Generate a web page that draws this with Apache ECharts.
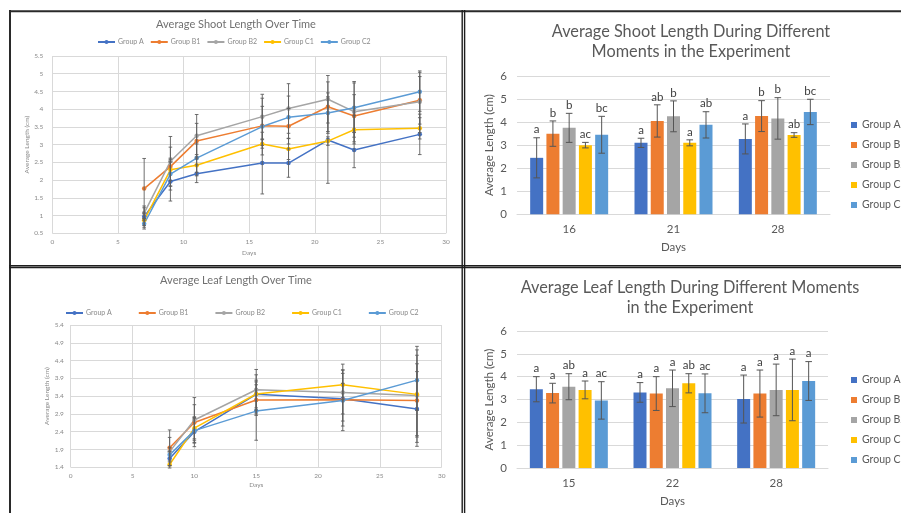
<!DOCTYPE html>
<html><head><meta charset="utf-8">
<script src="https://cdn.jsdelivr.net/npm/echarts@6/dist/echarts.min.js"></script>
<style>html,body{margin:0;padding:0;background:#fff}#c{width:901px;height:513px}</style>
</head><body><div id="c"></div>
<script>
// ---------- data ----------
const groups = ['Group A', 'Group B1', 'Group B2', 'Group C1', 'Group C2'];
const colors = ['#4472C4', '#ED7D31', '#A5A5A5', '#FFC000', '#5B9BD5'];

// Average shoot length over time (line chart)
const shootDays = [7, 9, 11, 16, 18, 21, 23, 28];
const shootA  = [0.97, 1.96, 2.18, 2.48, 2.48, 3.13, 2.85, 3.29];
const shootB1 = [1.76, 2.38, 3.10, 3.53, 3.52, 4.07, 3.81, 4.25];
const shootB2 = [1.07, 2.53, 3.25, 3.79, 4.02, 4.28, 3.93, 4.21];
const shootC1 = [0.87, 2.29, 2.42, 3.02, 2.88, 3.10, 3.42, 3.46];
const shootC2 = [0.77, 2.17, 2.62, 3.51, 3.77, 3.89, 4.04, 4.49];
const shootErrA  = [0.25, 0.55, 0.25, 0.87, 0.40, 1.22, 0.50, 0.57];
const shootErrB1 = [0.85, 0.55, 0.50, 0.55, 0.50, 0.70, 0.60, 0.67];
const shootErrB2 = [0.20, 0.70, 0.60, 0.63, 0.70, 0.67, 0.85, 0.87];
const shootErrC1 = [0.20, 0.30, 0.30, 0.12, 0.30, 0.12, 0.40, 0.30];
const shootErrC2 = [0.15, 0.45, 0.40, 0.80, 0.60, 0.57, 0.70, 0.55];

// Average leaf length over time (line chart)
const leafDays = [8, 10, 15, 22, 28];
const leafA  = [1.65, 2.40, 3.45, 3.33, 3.04];
const leafB1 = [1.95, 2.66, 3.29, 3.30, 3.28];
const leafB2 = [1.84, 2.73, 3.58, 3.50, 3.42];
const leafC1 = [1.48, 2.50, 3.46, 3.72, 3.45];
const leafC2 = [1.75, 2.43, 2.98, 3.28, 3.85];
const leafErrA  = [0.20, 0.42, 0.55, 0.43, 1.05];
const leafErrB1 = [0.50, 0.50, 0.43, 0.74, 1.03];
const leafErrB2 = [0.40, 0.63, 0.57, 0.80, 1.13];
const leafErrC1 = [0.10, 0.30, 0.39, 0.42, 1.35];
const leafErrC2 = [0.20, 0.35, 0.82, 0.85, 0.85];

// Shoot length bar chart
const shootBarDays = ['16', '21', '28'];
const shootBarA  = [2.45, 3.10, 3.27];
const shootBarB1 = [3.50, 4.05, 4.26];
const shootBarB2 = [3.75, 4.25, 4.16];
const shootBarC1 = [3.00, 3.10, 3.44];
const shootBarC2 = [3.45, 3.88, 4.44];
const shootBarErrA  = [0.87, 0.20, 0.65];
const shootBarErrB1 = [0.55, 0.70, 0.67];
const shootBarErrB2 = [0.63, 0.67, 0.90];
const shootBarErrC1 = [0.12, 0.13, 0.10];
const shootBarErrC2 = [0.80, 0.57, 0.55];
const shootLetA  = ['a', 'a', 'a'];
const shootLetB1 = ['b', 'ab', 'b'];
const shootLetB2 = ['b', 'b', 'b'];
const shootLetC1 = ['ac', 'a', 'ab'];
const shootLetC2 = ['bc', 'ab', 'bc'];

// Leaf length bar chart
const leafBarDays = ['15', '22', '28'];
const leafBarA  = [3.45, 3.31, 3.02];
const leafBarB1 = [3.28, 3.26, 3.26];
const leafBarB2 = [3.56, 3.49, 3.42];
const leafBarC1 = [3.42, 3.71, 3.42];
const leafBarC2 = [2.96, 3.27, 3.81];
const leafBarErrA  = [0.55, 0.43, 1.05];
const leafBarErrB1 = [0.43, 0.74, 1.03];
const leafBarErrB2 = [0.57, 0.80, 1.13];
const leafBarErrC1 = [0.39, 0.42, 1.35];
const leafBarErrC2 = [0.82, 0.85, 0.85];
const leafLetA  = ['a', 'a', 'a'];
const leafLetB1 = ['a', 'a', 'a'];
const leafLetB2 = ['ab', 'a', 'a'];
const leafLetC1 = ['a', 'ab', 'a'];
const leafLetC2 = ['ac', 'ac', 'a'];

const shootTicksY = [0.5, 5.5, 0.5]; // min, max, interval
const leafTicksY = [1.4, 5.4, 0.5];
const barTicksY = [0, 6, 1];
const dayTicksX = [0, 30, 5];

// ---------- build ----------
const FONT = 'Lato';
const BW = 13, BGAP = 0.25;
const shootLine = [shootA, shootB1, shootB2, shootC1, shootC2];
const shootLineErr = [shootErrA, shootErrB1, shootErrB2, shootErrC1, shootErrC2];
const leafLine = [leafA, leafB1, leafB2, leafC1, leafC2];
const leafLineErr = [leafErrA, leafErrB1, leafErrB2, leafErrC1, leafErrC2];
const shootBar = [shootBarA, shootBarB1, shootBarB2, shootBarC1, shootBarC2];
const shootBarErr = [shootBarErrA, shootBarErrB1, shootBarErrB2, shootBarErrC1, shootBarErrC2];
const shootLet = [shootLetA, shootLetB1, shootLetB2, shootLetC1, shootLetC2];
const leafBar = [leafBarA, leafBarB1, leafBarB2, leafBarC1, leafBarC2];
const leafBarErr = [leafBarErrA, leafBarErrB1, leafBarErrB2, leafBarErrC1, leafBarErrC2];
const leafLet = [leafLetA, leafLetB1, leafLetB2, leafLetC1, leafLetC2];

function lineErr(params, api) {
  const x = api.value(0), lo = api.value(1), hi = api.value(2);
  const p1 = api.coord([x, lo]), p2 = api.coord([x, hi]);
  const c = 1.8, st = {stroke: '#5f5f5f', lineWidth: 0.9};
  return {type: 'group', children: [
    {type: 'line', shape: {x1: p1[0], y1: p1[1], x2: p2[0], y2: p2[1]}, style: st},
    {type: 'line', shape: {x1: p1[0] - c, y1: p1[1], x2: p1[0] + c, y2: p1[1]}, style: st},
    {type: 'line', shape: {x1: p2[0] - c, y1: p2[1], x2: p2[0] + c, y2: p2[1]}, style: st}
  ]};
}
function makeBarErr(gi, letters) {
  return function (params, api) {
    const ci = api.value(0), v = api.value(1), e = api.value(2);
    const off = (gi - 2) * BW * (1 + BGAP);
    const p1 = api.coord([ci, v - e]), p2 = api.coord([ci, v + e]);
    const x = p1[0] + off, c = 3.3, st = {stroke: '#555', lineWidth: 1};
    return {type: 'group', children: [
      {type: 'line', shape: {x1: x, y1: p1[1], x2: x, y2: p2[1]}, style: st},
      {type: 'line', shape: {x1: x - c, y1: p1[1], x2: x + c, y2: p1[1]}, style: st},
      {type: 'line', shape: {x1: x - c, y1: p2[1], x2: x + c, y2: p2[1]}, style: st},
      {type: 'text', style: {text: letters[params.dataIndex], x: x, y: p2[1] - 2, align: 'center', verticalAlign: 'bottom', fill: '#404040', font: '11.5px ' + FONT}}
    ]};
  };
}

const series = [];
groups.forEach((g, i) => {
  series.push({type: 'line', name: g, xAxisIndex: 0, yAxisIndex: 0, color: colors[i],
    data: shootDays.map((d, k) => [d, shootLine[i][k]]), symbol: 'circle', symbolSize: 4.5,
    lineStyle: {width: 1.5}, z: 2});
});
groups.forEach((g, i) => {
  series.push({type: 'line', name: g, xAxisIndex: 2, yAxisIndex: 2, color: colors[i],
    data: leafDays.map((d, k) => [d, leafLine[i][k]]), symbol: 'circle', symbolSize: 4.5,
    lineStyle: {width: 1.5}, z: 2});
});
groups.forEach((g, i) => {
  series.push({type: 'custom', name: 'errS' + i, xAxisIndex: 0, yAxisIndex: 0, silent: true, z: 5,
    data: shootDays.map((d, k) => [d, shootLine[i][k] - shootLineErr[i][k], shootLine[i][k] + shootLineErr[i][k]]),
    encode: {x: 0, y: [1, 2]}, renderItem: lineErr});
  series.push({type: 'custom', name: 'errL' + i, xAxisIndex: 2, yAxisIndex: 2, silent: true, z: 5,
    data: leafDays.map((d, k) => [d, leafLine[i][k] - leafLineErr[i][k], leafLine[i][k] + leafLineErr[i][k]]),
    encode: {x: 0, y: [1, 2]}, renderItem: lineErr});
});
groups.forEach((g, i) => {
  series.push({type: 'bar', name: g, xAxisIndex: 1, yAxisIndex: 1, color: colors[i],
    data: shootBar[i], barWidth: BW, barGap: (BGAP * 100) + '%'});
  series.push({type: 'bar', name: g, xAxisIndex: 3, yAxisIndex: 3, color: colors[i],
    data: leafBar[i], barWidth: BW, barGap: (BGAP * 100) + '%'});
});
groups.forEach((g, i) => {
  series.push({type: 'custom', name: 'errBS' + i, xAxisIndex: 1, yAxisIndex: 1, silent: true, z: 5,
    data: shootBarDays.map((d, k) => [k, shootBar[i][k], shootBarErr[i][k]]),
    encode: {x: 0, y: 1}, renderItem: makeBarErr(i, shootLet[i])});
  series.push({type: 'custom', name: 'errBL' + i, xAxisIndex: 3, yAxisIndex: 3, silent: true, z: 5,
    data: leafBarDays.map((d, k) => [k, leafBar[i][k], leafBarErr[i][k]]),
    encode: {x: 0, y: 1}, renderItem: makeBarErr(i, leafLet[i])});
});

const smallTxt = '#8a8a8a';
const grid = '#d9d9d9';
function valX(gi, nameGap, fs) {
  return {type: 'value', gridIndex: gi, min: dayTicksX[0], max: dayTicksX[1], interval: dayTicksX[2],
    name: 'Days', nameLocation: 'middle', nameGap: nameGap,
    nameTextStyle: {fontSize: fs, color: smallTxt, fontFamily: FONT},
    axisLine: {show: false}, axisTick: {show: false},
    axisLabel: {fontSize: fs, color: smallTxt, margin: 5, fontFamily: FONT},
    splitLine: {show: true, lineStyle: {color: grid, width: 1}}};
}
function valY(gi, t, nameGap, fs, margin) {
  return {type: 'value', gridIndex: gi, min: t[0], max: t[1], interval: t[2],
    name: 'Average Length (cm)', nameLocation: 'middle', nameGap: nameGap, nameRotate: 90,
    nameTextStyle: {fontSize: fs, color: smallTxt, fontFamily: FONT},
    axisLine: {show: false}, axisTick: {show: false},
    axisLabel: {fontSize: fs, color: smallTxt, margin: margin, fontFamily: FONT},
    splitLine: {show: true, lineStyle: {color: grid, width: 1}}};
}
function catX(gi, cats) {
  return {type: 'category', gridIndex: gi, data: cats, name: 'Days', nameLocation: 'middle', nameGap: 27,
    nameTextStyle: {fontSize: 11.5, color: '#595959', fontFamily: FONT},
    axisLine: {show: true, lineStyle: {color: grid}}, axisTick: {show: false},
    axisLabel: {fontSize: 11.5, color: '#595959', margin: 9, fontFamily: FONT}};
}
function barY(gi) {
  return {type: 'value', gridIndex: gi, min: barTicksY[0], max: barTicksY[1], interval: barTicksY[2],
    name: 'Average Length (cm)', nameLocation: 'middle', nameGap: 22, nameRotate: 90,
    nameTextStyle: {fontSize: 11.5, color: '#595959', fontFamily: FONT},
    axisLine: {show: false}, axisTick: {show: false},
    axisLabel: {fontSize: 11.5, color: '#595959', margin: 10, fontFamily: FONT},
    splitLine: {show: true, lineStyle: {color: grid, width: 1}}};
}

function lineLegend(left, top, gap) {
  return {data: groups, left: left, top: top, orient: 'horizontal', selectedMode: false, padding: 0,
    itemWidth: 17, itemHeight: 5, itemGap: gap,
    textStyle: {fontSize: 7, color: smallTxt, fontFamily: FONT, padding: [0, 0, 0, -2]}};
}
function barLegend(top) {
  return {data: groups, left: 851, top: top, orient: 'vertical', selectedMode: false, icon: 'rect', padding: 0,
    itemWidth: 6, itemHeight: 6, itemGap: 6,
    textStyle: {fontSize: 10.5, lineHeight: 14, color: '#595959', fontFamily: FONT, width: 60, overflow: 'none'}};
}

const bst = {stroke: '#1e1e1e', lineWidth: 1.4};
const option = {
  animation: false,
  backgroundColor: '#fff',
  textStyle: {fontFamily: FONT},
  title: [
    {text: 'Average Shoot Length Over Time', left: 236, top: 17.5, textAlign: 'center', padding: 0,
      textStyle: {fontSize: 11, lineHeight: 14, fontWeight: 'normal', color: '#707070', fontFamily: FONT}},
    {text: 'Average Shoot Length During Different\nMoments in the Experiment', left: 691, top: 22, textAlign: 'center', padding: 0,
      textStyle: {fontSize: 16.3, lineHeight: 20, fontWeight: 'normal', color: '#595959', fontFamily: FONT}},
    {text: 'Average Leaf Length Over Time', left: 236, top: 273.5, textAlign: 'center', padding: 0,
      textStyle: {fontSize: 11, lineHeight: 14, fontWeight: 'normal', color: '#707070', fontFamily: FONT}},
    {text: 'Average Leaf Length During Different Moments\nin the Experiment', left: 690, top: 278, textAlign: 'center', padding: 0,
      textStyle: {fontSize: 16.3, lineHeight: 20, fontWeight: 'normal', color: '#595959', fontFamily: FONT}}
  ],
  legend: [lineLegend(97, 38.5, 6), barLegend(118), lineLegend(65, 309.5, 26), barLegend(373)],
  grid: [
    {left: 52.3, top: 56, width: 393.7, height: 177.3},
    {left: 517, top: 76, width: 313, height: 138.3},
    {left: 70.7, top: 325, width: 371, height: 142.3},
    {left: 517, top: 331, width: 311, height: 137}
  ],
  xAxis: [valX(0, 16, 6.5), catX(1, shootBarDays), valX(2, 14, 6.5), catX(3, leafBarDays)],
  yAxis: [valY(0, shootTicksY, 19, 6.5, 9), barY(1), valY(2, leafTicksY, 19, 6.5, 7), barY(3)],
  series: series,
  graphic: [
    {type: 'line', silent: true, z: 100, shape: {x1: 9, y1: 11.2, x2: 901, y2: 11.2}, style: {stroke: '#2a2a2a', lineWidth: 2}},
    {type: 'line', silent: true, z: 100, shape: {x1: 10, y1: 10, x2: 10, y2: 513}, style: {stroke: '#2a2a2a', lineWidth: 2}},
    {type: 'line', silent: true, z: 100, shape: {x1: 462.2, y1: 10, x2: 462.2, y2: 513}, style: bst},
    {type: 'line', silent: true, z: 100, shape: {x1: 464.6, y1: 10, x2: 464.6, y2: 513}, style: bst},
    {type: 'line', silent: true, z: 100, shape: {x1: 9, y1: 265.7, x2: 901, y2: 265.7}, style: bst},
    {type: 'line', silent: true, z: 100, shape: {x1: 9, y1: 267.5, x2: 901, y2: 267.5}, style: bst}
  ]
};
const chart = echarts.init(document.getElementById('c'), null, {renderer: 'canvas'});
chart.setOption(option);
</script></body></html>
